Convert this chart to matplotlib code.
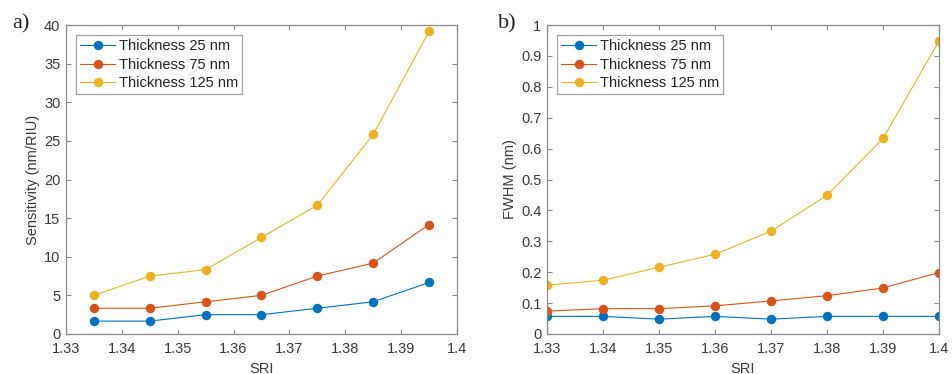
import matplotlib.pyplot as plt

plt.rcParams['font.family'] = ['Liberation Sans', 'DejaVu Sans']

# sensitivity vs surrounding refractive index
sri_sens = [1.335, 1.345, 1.355, 1.365, 1.375, 1.385, 1.395]
sens_25 = [1.67, 1.67, 2.5, 2.5, 3.33, 4.17, 6.67]
sens_75 = [3.33, 3.33, 4.17, 5.0, 7.5, 9.17, 14.17]
sens_125 = [5.0, 7.5, 8.33, 12.5, 16.67, 25.83, 39.17]

# FWHM vs surrounding refractive index
sri_fwhm = [1.33, 1.34, 1.35, 1.36, 1.37, 1.38, 1.39, 1.40]
fwhm_25 = [0.057, 0.057, 0.048, 0.057, 0.048, 0.057, 0.057, 0.057]
fwhm_75 = [0.074, 0.082, 0.082, 0.091, 0.107, 0.124, 0.149, 0.199]
fwhm_125 = [0.158, 0.174, 0.216, 0.258, 0.333, 0.449, 0.633, 0.949]

labels = ['Thickness 25 nm', 'Thickness 75 nm', 'Thickness 125 nm']
colors = ['#0072BD', '#D95319', '#EDB120']
x_ticks = [1.33, 1.34, 1.35, 1.36, 1.37, 1.38, 1.39, 1.4]
x_ticklabels = ['1.33', '1.34', '1.35', '1.36', '1.37', '1.38', '1.39', '1.4']

fig = plt.figure(figsize=(9.52, 3.74), dpi=100)
ax1 = fig.add_axes([0.0693, 0.107, 0.4107, 0.826])
ax2 = fig.add_axes([0.5746, 0.107, 0.4118, 0.826])

frame = '#8a8a8a'
text_c = '#3a3a3a'


def style(ax, ylabel, yticks, yticklabels, ylim):
    for lbl, c, ys in ax._series:
        ax.plot(ax._x, ys, '-o', color=c, label=lbl, lw=0.8,
                markersize=6.8, markeredgewidth=0)
    ax.set_xlim(1.33, 1.4)
    ax.set_ylim(*ylim)
    ax.set_xticks(x_ticks)
    ax.set_xticklabels(x_ticklabels)
    ax.set_yticks(yticks)
    ax.set_yticklabels(yticklabels)
    ax.tick_params(direction='in', top=True, right=True, length=3.5,
                   width=0.8, color=frame, labelcolor=text_c, labelsize=10.5)
    ax.tick_params(axis='x', pad=6)
    ax.tick_params(axis='y', pad=4)
    for s in ax.spines.values():
        s.set_color(frame)
        s.set_linewidth(0.9)
    ax.set_xlabel('SRI', fontsize=10.5, color=text_c, labelpad=4)
    ax.set_ylabel(ylabel, fontsize=10.5, color=text_c, labelpad=3)
    leg = ax.legend(loc='upper left', bbox_to_anchor=(0.025, 0.968),
                    fontsize=10.5, frameon=True, fancybox=False,
                    handlelength=2.4, handletextpad=0.25,
                    labelspacing=0.3, borderpad=0.3, borderaxespad=0)
    leg.get_frame().set_edgecolor(frame)
    leg.get_frame().set_linewidth(0.9)
    for t in leg.get_texts():
        t.set_color('#222222')


ax1._x = sri_sens
ax1._series = list(zip(labels, colors, [sens_25, sens_75, sens_125]))
style(ax1, 'Sensitivity (nm/RIU)', range(0, 41, 5),
      [str(v) for v in range(0, 41, 5)], (0, 40))

ax2._x = sri_fwhm
ax2._series = list(zip(labels, colors, [fwhm_25, fwhm_75, fwhm_125]))
fw_ticks = [i / 10 for i in range(11)]
style(ax2, 'FWHM (nm)', fw_ticks,
      ['0'] + ['%.1f' % v for v in fw_ticks[1:-1]] + ['1'], (0, 1))

fig.text(0.013, 0.925, 'a)', family=['Liberation Serif'], fontsize=16,
         color='#222222')
fig.text(0.523, 0.925, 'b)', family=['Liberation Serif'], fontsize=16,
         color='#222222')

fig.savefig('out.png', dpi=100)
